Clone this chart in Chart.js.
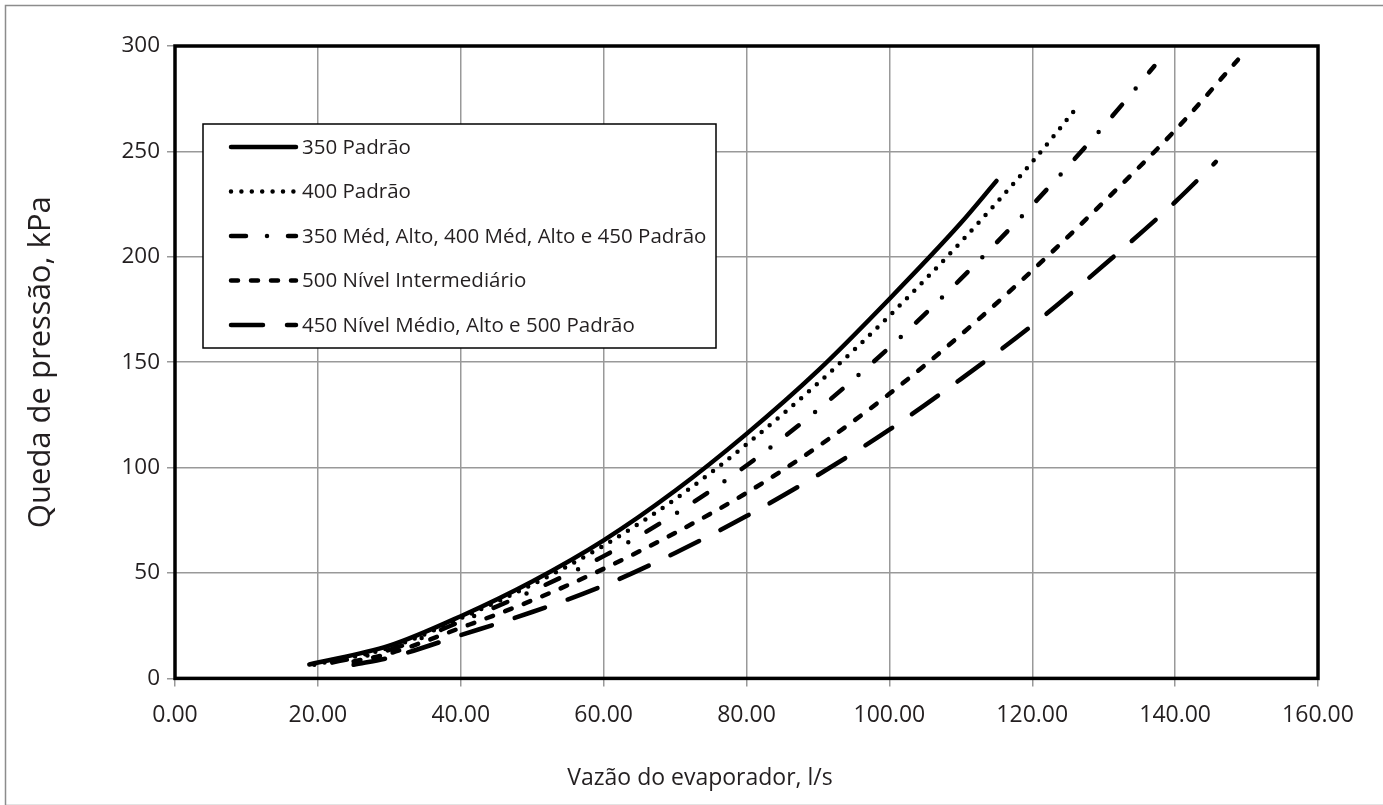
<!DOCTYPE html>
<html lang="pt">
<head>
<meta charset="utf-8">
<title>Queda de pressão no evaporador</title>
<script src="https://cdn.jsdelivr.net/npm/chart.js@4.4.1/dist/chart.umd.min.js"></script>
<style>
  html, body { margin: 0; padding: 0; background: #fff; }
  #wrap { position: relative; width: 1383px; height: 805px; }
</style>
</head>
<body>
<div id="wrap"><canvas id="pressureChart"></canvas></div>
<script>
// series labels (legend order)
const seriesNames = [
  '350 Padrão',
  '400 Padrão',
  '350 Méd, Alto, 400 Méd, Alto e 450 Padrão',
  '500 Nível Intermediário',
  '450 Nível Médio, Alto e 500 Padrão'
];

// flow (l/s) and pressure drop (kPa)
const flow350 = [18.8, 30, 40, 50, 60, 70, 80, 90, 100, 110, 115];
const drop350 = [6.6, 15.5, 29.5, 46, 65.5, 89, 116, 146, 180, 216, 236];

const flow400 = [19.5, 30, 40, 50, 60, 70, 80, 90, 100, 110, 120, 126.4];
const drop400 = [6.5, 14.5, 28.5, 44.5, 63, 85, 111, 140, 172, 207, 245, 271.5];

const flow350m = [22, 30, 40, 50, 60, 70, 80, 90, 100, 110, 120, 130, 137.1];
const drop350m = [7.5, 13.5, 27, 41.5, 58, 78, 101, 127.5, 157, 189.5, 224.5, 262, 290.5];

const flow500i = [25, 30, 40, 50, 60, 70, 80, 90, 100, 110, 120, 130, 140, 148.8];
const drop500i = [8, 11.8, 24, 37, 52, 69, 88, 110, 135, 163, 193.5, 226, 260, 293.5];

const flow450m = [25, 30, 40, 50, 60, 70, 80, 90, 100, 110, 120, 130, 140, 145.7];
const drop450m = [6.5, 9.8, 20.5, 31.5, 44, 59.5, 77, 96.5, 118, 142, 167.5, 196, 226, 245];

// axis ranges
const xMin = 0, xMax = 160, xStep = 20;
const yMin = 0, yMax = 300, yStep = 50;

const FONT = "'Open Sans', 'Noto Sans', sans-serif";
const TEXT = '#231f20';
const GRID = '#999999';

const pairs = (xs, ys) => xs.map((x, i) => ({ x: x, y: ys[i] }));

// line looks: solid, dotted, dash-dot, dashed, long dash
const dashes = [[], [0, 10.4], [15, 21, 0, 21], [7, 13], [32, 24]];
const seriesData = [
  pairs(flow350, drop350),
  pairs(flow400, drop400),
  pairs(flow350m, drop350m),
  pairs(flow500i, drop500i),
  pairs(flow450m, drop450m)
];

// grey frame round the whole picture
const outerFrame = {
  id: 'outerFrame',
  beforeDraw(chart) {
    const ctx = chart.ctx;
    ctx.save();
    ctx.fillStyle = '#fff';
    ctx.fillRect(0, 0, chart.width, chart.height);
    ctx.strokeStyle = '#8c8c8c';
    ctx.lineWidth = 1.5;
    ctx.strokeRect(5.5, 5.5, chart.width - 4, chart.height - 5);
    ctx.restore();
  }
};

// thick black box round the plot + boxed legend in the top left
const plotBox = {
  id: 'plotBox',
  afterDatasetsDraw(chart, args, opts) {
    const ctx = chart.ctx;
    const a = chart.chartArea;
    ctx.save();
    ctx.strokeStyle = '#000';
    ctx.lineWidth = 3.5;
    ctx.strokeRect(a.left, a.top, a.right - a.left, a.bottom - a.top);

    const x0 = a.left + opts.left;
    const y0 = a.top + opts.top;
    ctx.fillStyle = '#fff';
    ctx.fillRect(x0, y0, opts.width, opts.height);
    ctx.lineWidth = 1.5;
    ctx.strokeRect(x0, y0, opts.width, opts.height);

    ctx.font = opts.fontSize + 'px ' + FONT;
    ctx.textBaseline = 'middle';
    ctx.textAlign = 'left';
    chart.data.datasets.forEach((ds, i) => {
      const y = y0 + opts.firstRow + i * opts.rowGap;
      ctx.beginPath();
      ctx.setLineDash(ds.borderDash || []);
      ctx.lineCap = 'round';
      ctx.lineWidth = ds.borderWidth;
      ctx.strokeStyle = ds.borderColor;
      ctx.moveTo(x0 + opts.sampleFrom, y);
      ctx.lineTo(x0 + opts.sampleTo, y);
      ctx.stroke();
      ctx.setLineDash([]);
      ctx.fillStyle = TEXT;
      ctx.fillText(ds.label, x0 + opts.textFrom, y + 1);
    });
    ctx.restore();
  }
};

new Chart(document.getElementById('pressureChart'), {
  type: 'scatter',
  data: {
    datasets: seriesNames.map((name, i) => ({
      label: name,
      data: seriesData[i],
      showLine: true,
      borderColor: '#000',
      borderWidth: 4.5,
      borderDash: dashes[i],
      borderCapStyle: 'round',
      borderJoinStyle: 'round',
      cubicInterpolationMode: 'monotone',
      pointRadius: 0,
      pointHoverRadius: 0
    }))
  },
  options: {
    responsive: true,
    maintainAspectRatio: false,
    animation: false,
    layout: { padding: { top: 46, left: 17, right: 0, bottom: 0 } },
    plugins: {
      legend: { display: false },
      tooltip: { enabled: false },
      title: {
        display: true,
        position: 'bottom',
        text: 'Vazão do evaporador, l/s',
        color: TEXT,
        font: { family: FONT, size: 23, weight: 'normal' },
        padding: { top: 0, bottom: 13 }
      },
      plotBox: {
        left: 28, top: 78, width: 513, height: 224,
        firstRow: 23, rowGap: 44.5,
        sampleFrom: 28, sampleTo: 93, textFrom: 99,
        fontSize: 20.5
      }
    },
    scales: {
      x: {
        type: 'linear',
        min: xMin, max: xMax,
        border: { display: false },
        grid: { color: GRID, lineWidth: 1.5, tickLength: 8, tickColor: GRID },
        ticks: {
          stepSize: xStep,
          padding: 15,
          color: TEXT,
          font: { family: FONT, size: 23 },
          callback: v => Number(v).toFixed(2)
        },
        afterFit(scale) { scale.height = 86; }
      },
      y: {
        type: 'linear',
        min: yMin, max: yMax,
        border: { display: false },
        grid: { color: GRID, lineWidth: 1.5, tickLength: 8, tickColor: GRID },
        ticks: {
          stepSize: yStep,
          padding: 7,
          color: TEXT,
          font: { family: FONT, size: 22.5 }
        },
        title: {
          display: true,
          text: 'Queda de pressão, kPa',
          color: TEXT,
          font: { family: FONT, size: 31 },
          padding: { top: 6, bottom: 0 }
        },
        afterFit(scale) { scale.width = 158; }
      },
      // empty right-hand axis, only keeps the gap right of the plot
      yRight: {
        type: 'linear',
        position: 'right',
        min: yMin, max: yMax,
        border: { display: false },
        grid: { display: false, drawTicks: false },
        ticks: { display: false },
        afterFit(scale) { scale.width = 65; }
      }
    }
  },
  plugins: [outerFrame, plotBox]
});
</script>
</body>
</html>
